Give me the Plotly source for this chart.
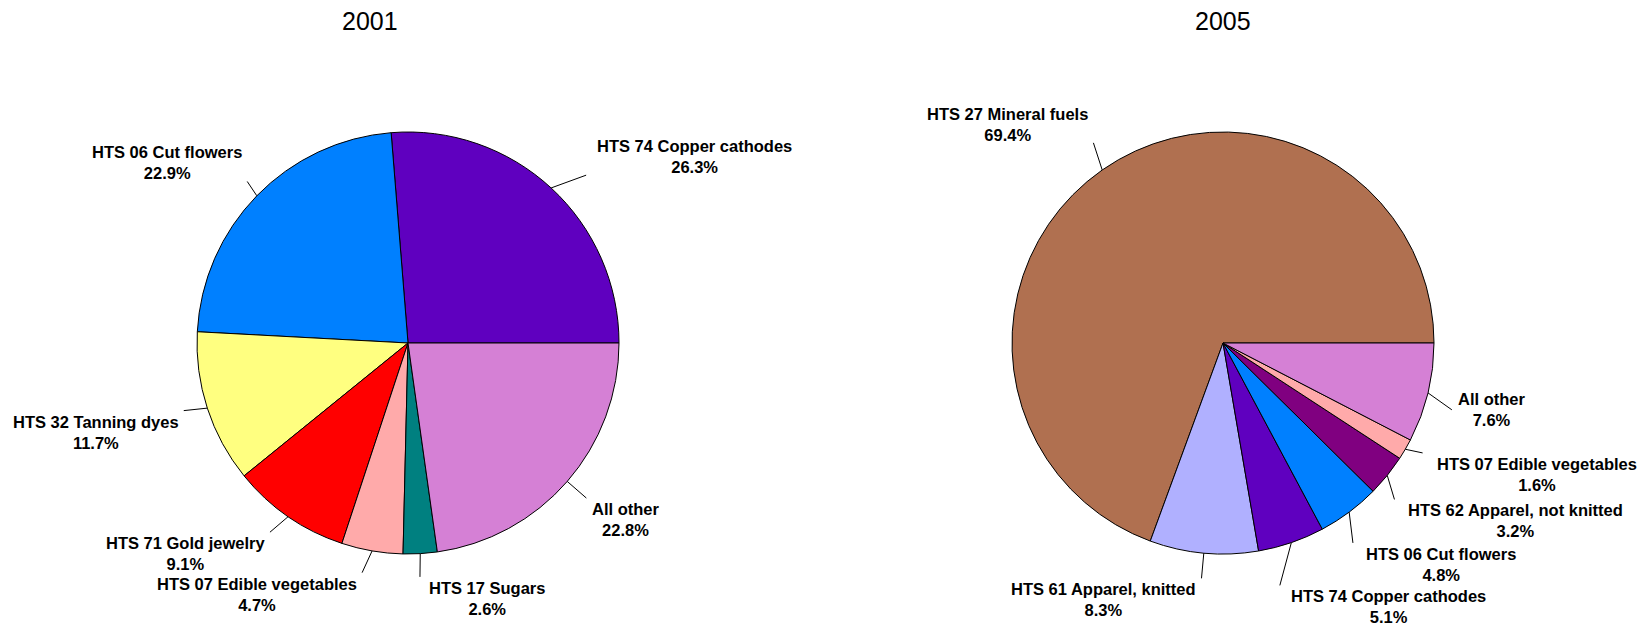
import math
import plotly.graph_objects as go

# ---------------- data ----------------
years = ["2001", "2005"]

labels_2001 = ["HTS 74 Copper cathodes", "HTS 06 Cut flowers", "HTS 32 Tanning dyes",
               "HTS 71 Gold jewelry", "HTS 07 Edible vegetables", "HTS 17 Sugars", "All other"]
shares_2001 = [26.3, 22.9, 11.7, 9.1, 4.7, 2.6, 22.8]

labels_2005 = ["HTS 27 Mineral fuels", "HTS 61 Apparel, knitted", "HTS 74 Copper cathodes",
               "HTS 06 Cut flowers", "HTS 62 Apparel, not knitted", "HTS 07 Edible vegetables", "All other"]
shares_2005 = [69.4, 8.3, 5.1, 4.8, 3.2, 1.6, 7.6]

# ---------------- styles ----------------
colors = {
    "HTS 74 Copper cathodes": "#5F00BF",
    "HTS 06 Cut flowers": "#0080FF",
    "HTS 32 Tanning dyes": "#FFFF80",
    "HTS 71 Gold jewelry": "#FF0000",
    "HTS 07 Edible vegetables": "#FFAAAA",
    "HTS 17 Sugars": "#008080",
    "All other": "#D580D5",
    "HTS 27 Mineral fuels": "#B07050",
    "HTS 61 Apparel, knitted": "#B0B0FF",
    "HTS 62 Apparel, not knitted": "#800080",
}

W, H = 1648, 628
R = 211
centers = [(408, 343), (1223, 343)]   # page pixels
title_x = [370, 1223]
# label leader tweaks (layout only): angle shift (deg), radius factor, text gap, vertical anchor
shift_2001 = [-4.0, -0.9, -1.2, -1.5, -1.5, -0.4, 0.0]
rad_2001 = [1.16, 1.08, 1.11, 1.11, 1.11, 1.11, 1.12]
gap_2001 = [9, 3, 3, 3, 3, 7, 4]
vmode_2001 = [None] * 7
shift_2005 = [-2.0, 0.0, -5.7, -3.7, -3.5, 1.4, -2.6]
rad_2005 = [1.13, 1.12, 1.18, 1.13, 1.10, 1.08, 1.13]
gap_2005 = [3, 3, 9, 11, 12, 12, 4]
vmode_2005 = [None, None, None, None, None, None, "middle"]

FONT = "Arial, Liberation Sans, sans-serif"


def px(x):
    return x / W


def py(y):
    return 1 - y / H


fig = go.Figure()
shapes = []
annotations = []

sets = [(labels_2001, shares_2001, shift_2001, rad_2001, gap_2001, vmode_2001),
        (labels_2005, shares_2005, shift_2005, rad_2005, gap_2005, vmode_2005)]

for k, (labs, vals, shifts, rads, gaps, vmodes) in enumerate(sets):
    cx, cy = centers[k]
    total = sum(vals)
    first_deg = vals[0] / total * 360
    fig.add_trace(go.Pie(
        labels=labs, values=vals, sort=False, direction="counterclockwise",
        rotation=90 - first_deg, textinfo="none", hoverinfo="label+percent",
        marker=dict(colors=[colors[l] for l in labs], line=dict(color="black", width=1)),
        domain=dict(x=[px(cx - R), px(cx + R)], y=[py(cy + R), py(cy - R)]),
        showlegend=False,
    ))
    cum = 0.0
    for lab, v, sh, rf, gap, vm in zip(labs, vals, shifts, rads, gaps, vmodes):
        mid = (cum + v / 2) / total * 2 * math.pi
        cum += v
        x0 = cx + R * math.cos(mid)
        y0 = cy - R * math.sin(mid)
        a2 = mid + math.radians(sh)
        x1 = cx + rf * R * math.cos(a2)
        y1 = cy - rf * R * math.sin(a2)
        shapes.append(dict(type="line", xref="paper", yref="paper",
                           x0=px(x0), y0=py(y0), x1=px(x1), y1=py(y1),
                           line=dict(color="black", width=1)))
        right = math.cos(a2) > 0
        upper = math.sin(a2) > 0
        tx = x1 + gap if right else x1 - gap
        if vm is None:
            yanc = "bottom" if upper else "top"
        else:
            yanc = vm
        ty = y1 + 3 if yanc == "bottom" else y1
        annotations.append(dict(
            xref="paper", yref="paper", x=px(tx), y=py(ty),
            xanchor="left" if right else "right",
            yanchor=yanc,
            text=f"<b>{lab}</b><br><b>{v:.1f}%</b>", showarrow=False, align="center",
            font=dict(family=FONT, size=16.5, color="black"),
        ))
    annotations.append(dict(
        xref="paper", yref="paper", x=px(title_x[k]), y=py(21),
        xanchor="center", yanchor="middle", text=years[k], showarrow=False,
        font=dict(family=FONT, size=25, color="black"),
    ))

fig.update_layout(
    width=W, height=H, margin=dict(l=0, r=0, t=0, b=0),
    paper_bgcolor="white", plot_bgcolor="white",
    shapes=shapes, annotations=annotations,
)

fig.write_html("out.html", config={"displayModeBar": False},
               post_script="document.body.style.margin='0px';")
